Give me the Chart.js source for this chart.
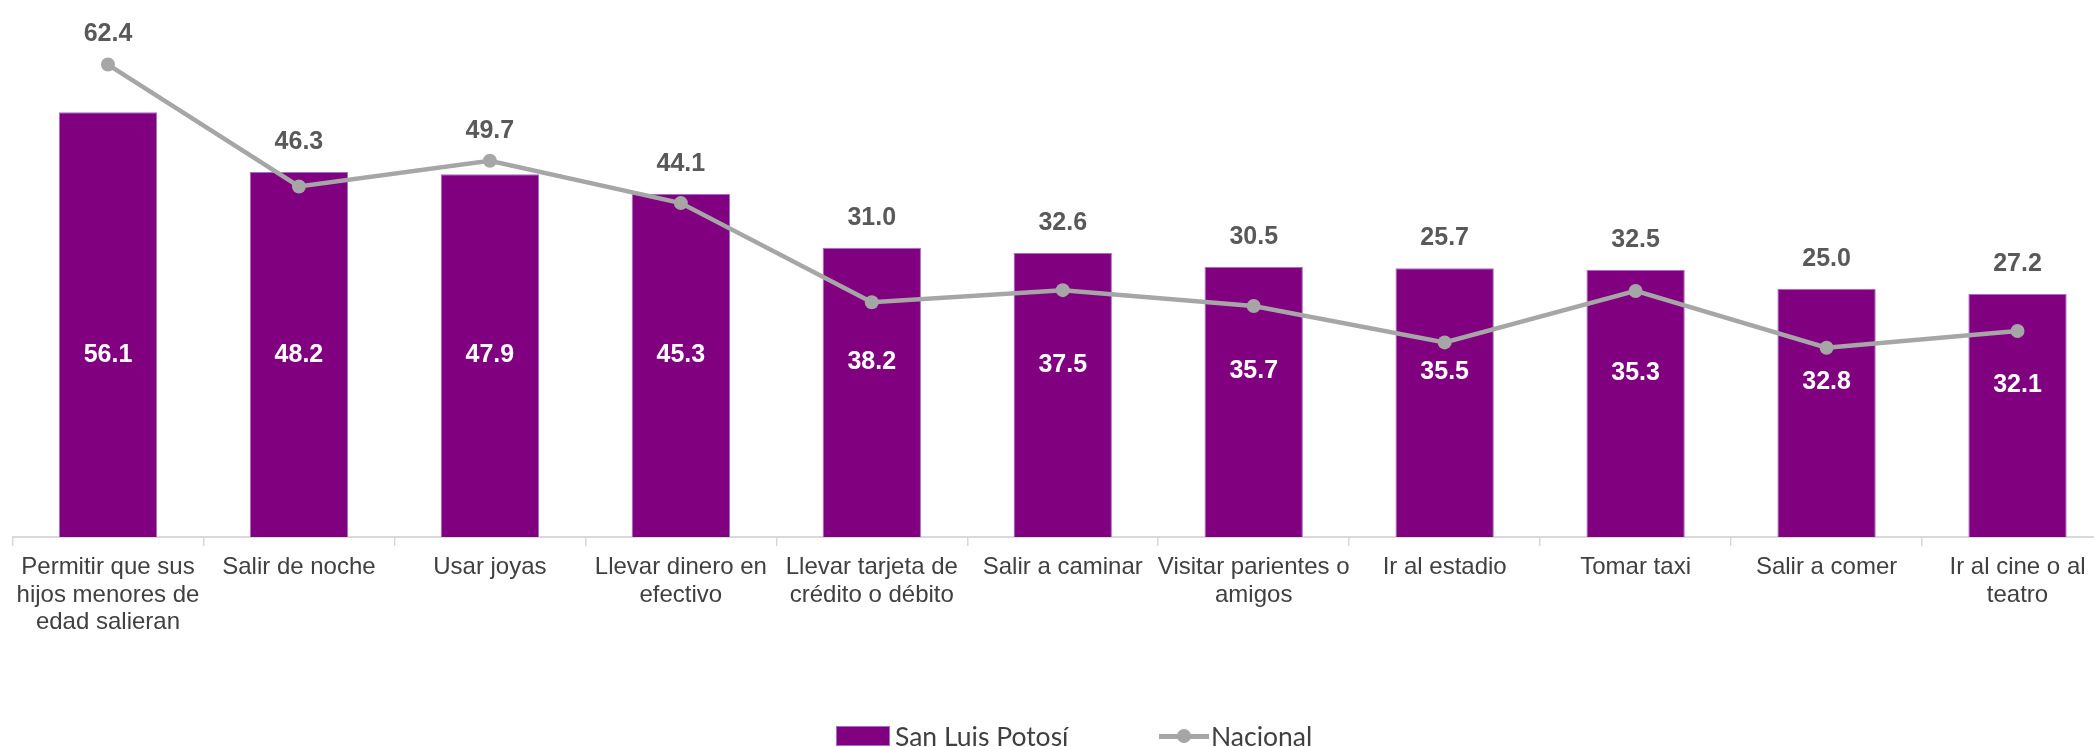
<!DOCTYPE html>
<html>
<head>
<meta charset="utf-8">
<script src="https://cdn.jsdelivr.net/npm/chart.js@4"></script>
<style>
  html, body { margin:0; padding:0; background:#fff; overflow:hidden; width:2094px; height:747px; }
  #wrap { position:absolute; left:0; top:0; width:2120px; height:747px; }
  #legend { position:absolute; left:0; top:722px; width:2094px; height:28px;
            font-family: Lato, "Open Sans", sans-serif; font-size:26.5px; color:#404040; }
  .item { position:absolute; top:0; height:28px; display:flex; align-items:center; white-space:nowrap; }
  .box { width:52px; height:18px; background:#800080; border:1px solid #a070c8; margin-right:5px; }
  .lsym { position:relative; width:50px; height:18px; margin-right:2px; }
  .lsym .ln { position:absolute; left:0; top:7px; width:50px; height:4.5px; background:#a6a6a6; }
  .lsym .dt { position:absolute; left:18px; top:2px; width:14px; height:14px; border-radius:50%; background:#a6a6a6; }
</style>
</head>
<body>
<div id="wrap"><canvas id="c" width="2120" height="747"></canvas></div>
<div id="legend">
  <div class="item" style="left:836px"><div class="box"></div><span>San Luis Potosí</span></div>
  <div class="item" style="left:1159px"><div class="lsym"><div class="ln"></div><div class="dt"></div></div><span>Nacional</span></div>
</div>
<script>
const categories = [
  ["Permitir que sus", "hijos menores de", "edad salieran"],
  "Salir de noche",
  "Usar joyas",
  ["Llevar dinero en", "efectivo"],
  ["Llevar tarjeta de", "crédito o débito"],
  "Salir a caminar",
  ["Visitar parientes o", "amigos"],
  "Ir al estadio",
  "Tomar taxi",
  "Salir a comer",
  ["Ir al cine o al", "teatro"]
];
const sanLuisPotosi = [56.1, 48.2, 47.9, 45.3, 38.2, 37.5, 35.7, 35.5, 35.3, 32.8, 32.1];
const nacional      = [62.4, 46.3, 49.7, 44.1, 31.0, 32.6, 30.5, 25.7, 32.5, 25.0, 27.2];

const valueLabels = {
  id: 'valueLabels',
  afterDatasetsDraw(chart) {
    const ctx = chart.ctx;
    const ys = chart.scales.y;
    const barMeta = chart.getDatasetMeta(0);
    const lineMeta = chart.getDatasetMeta(1);
    ctx.save();
    ctx.textAlign = 'center';
    ctx.textBaseline = 'middle';
    // bar labels (white, inside bars)
    ctx.font = 'bold 25px "Liberation Sans", Arial, sans-serif';
    ctx.fillStyle = '#ffffff';
    barMeta.data.forEach((bar, i) => {
      const v = sanLuisPotosi[i];
      const yv = Math.min(24, (v + 8) / 2);
      ctx.fillText(v.toFixed(1), bar.x, ys.getPixelForValue(yv));
    });
    // nacional labels (grey, above)
    ctx.fillStyle = '#595959';
    lineMeta.data.forEach((pt, i) => {
      const top = Math.min(pt.y, barMeta.data[i].y);
      ctx.fillText(nacional[i].toFixed(1), pt.x, top - 30);
    });
    ctx.restore();
  }
};

new Chart(document.getElementById('c'), {
  data: {
    labels: categories,
    datasets: [
      {
        type: 'bar',
        label: 'San Luis Potosí',
        data: sanLuisPotosi,
        backgroundColor: '#800080',
        borderColor: '#a070c8',
        borderWidth: 1,
        barPercentage: 1,
        categoryPercentage: 0.515,
        order: 2
      },
      {
        type: 'line',
        label: 'Nacional',
        data: nacional,
        borderColor: '#a6a6a6',
        backgroundColor: '#a6a6a6',
        borderWidth: 4.5,
        pointRadius: 7,
        pointBorderWidth: 0,
        pointBackgroundColor: '#a6a6a6',
        tension: 0,
        order: 1
      }
    ]
  },
  options: {
    responsive: false,
    animation: false,
    events: [],
    layout: { padding: { left: 12.5, right: 6.5, top: 4.3, bottom: 0 } },
    plugins: { legend: { display: false }, tooltip: { enabled: false } },
    scales: {
      x: {
        offset: true,
        grid: { display: true, drawOnChartArea: false, offset: true, tickLength: 9, color: '#d9d9d9', lineWidth: 1.5 },
        border: { display: true, color: '#d9d9d9', width: 2 },
        ticks: {
          color: '#404040',
          font: { family: '"Liberation Sans", Arial, sans-serif', size: 24, lineHeight: 1.15 },
          padding: 7.5,
          maxRotation: 0,
          autoSkip: false
        },
        afterFit(scale) { scale.height = 210; }
      },
      y: {
        display: false,
        min: 0,
        max: 70
      }
    }
  },
  plugins: [valueLabels]
});
</script>
</body>
</html>
